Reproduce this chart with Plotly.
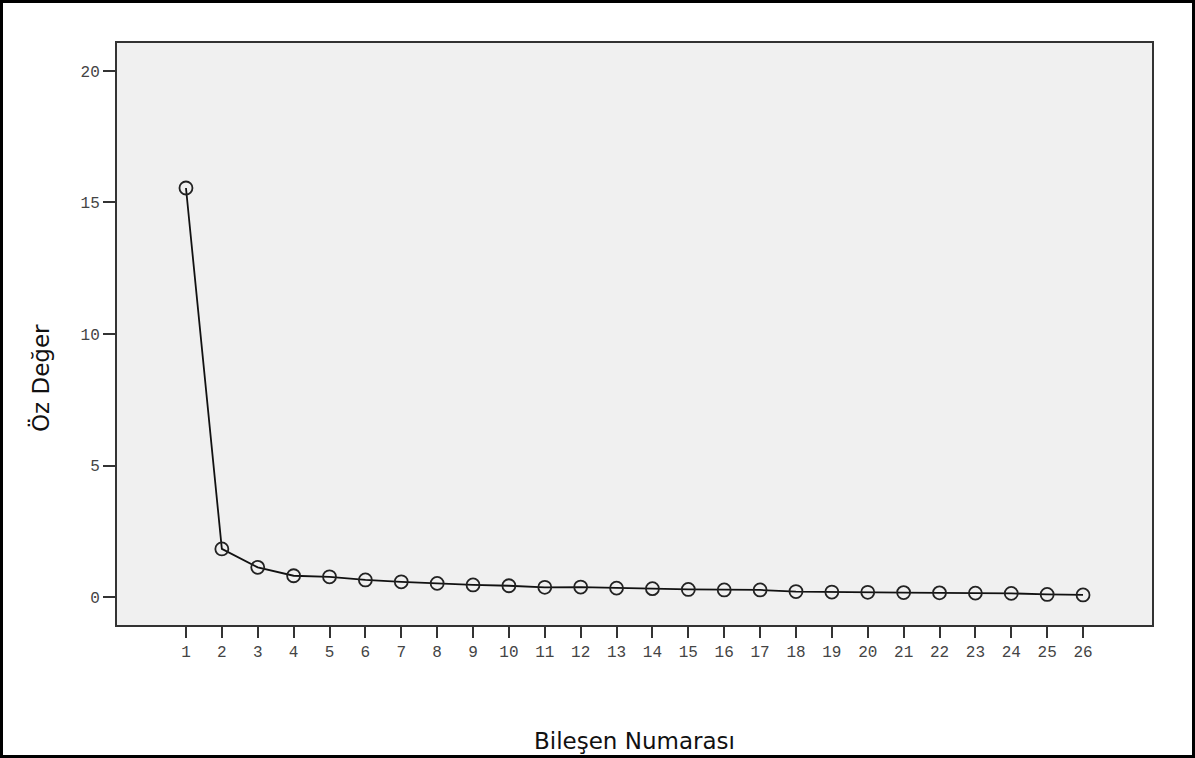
import plotly.graph_objects as go

components = list(range(1, 27))
eigenvalues = [15.55, 1.83, 1.13, 0.81, 0.77, 0.65, 0.58, 0.52, 0.46, 0.43,
               0.37, 0.38, 0.34, 0.32, 0.29, 0.27, 0.27, 0.21, 0.19, 0.18,
               0.17, 0.16, 0.15, 0.14, 0.10, 0.08]
y_ticks = [0, 5, 10, 15, 20]

W, H = 1195, 758
L, R, T, B = 116, 42, 42, 132
pw, ph = W - L - R, H - T - B

fig = go.Figure()
fig.add_trace(go.Scatter(
    x=components, y=eigenvalues, mode="lines+markers",
    line=dict(color="#111111", width=1.8),
    marker=dict(symbol="circle-open", size=13, color="#222222", line=dict(width=1.8)),
    showlegend=False,
))

tickfont = dict(family="Liberation Mono", size=16, color="#444444")

fig.update_layout(
    width=W, height=H,
    margin=dict(l=L, r=R, t=T, b=B),
    paper_bgcolor="white",
    plot_bgcolor="#f0f0f0",
    xaxis=dict(
        range=[-0.95, 27.95], tickmode="array", tickvals=components,
        ticktext=[str(c) for c in components],
        ticks="outside", ticklen=11, tickwidth=2, tickcolor="#333333",
        showgrid=False, zeroline=False, showline=False,
        tickfont=tickfont,
    ),
    yaxis=dict(
        range=[-1.1, 21.1], tickmode="array", tickvals=y_ticks,
        ticks="outside", ticklen=12, tickwidth=2, tickcolor="#333333",
        showgrid=False, zeroline=False, showline=False,
        tickfont=tickfont,
    ),
    shapes=[
        dict(type="rect", xref="paper", yref="paper", x0=0, x1=1, y0=0, y1=1,
             line=dict(color="#333333", width=2), layer="above"),
        dict(type="rect", xref="paper", yref="paper",
             x0=(-L + 1.5) / pw, x1=1 + (R - 1.5) / pw,
             y0=-(B - 1.5) / ph, y1=1 + (T - 1.5) / ph,
             line=dict(color="black", width=3), layer="above"),
    ],
    annotations=[
        dict(text="Bileşen Numarası", xref="paper", yref="paper",
             x=(634 - L) / pw, y=-(741 - (T + ph)) / ph,
             showarrow=False, xanchor="center", yanchor="middle",
             font=dict(family="DejaVu Sans", size=23, color="#111111")),
        dict(text="Öz Değer", xref="paper", yref="paper",
             x=(40 - L) / pw, y=1 - (378 - T) / ph, textangle=-90,
             showarrow=False, xanchor="center", yanchor="middle",
             font=dict(family="DejaVu Sans", size=23, color="#111111")),
    ],
)

fig.write_html("out.html")
